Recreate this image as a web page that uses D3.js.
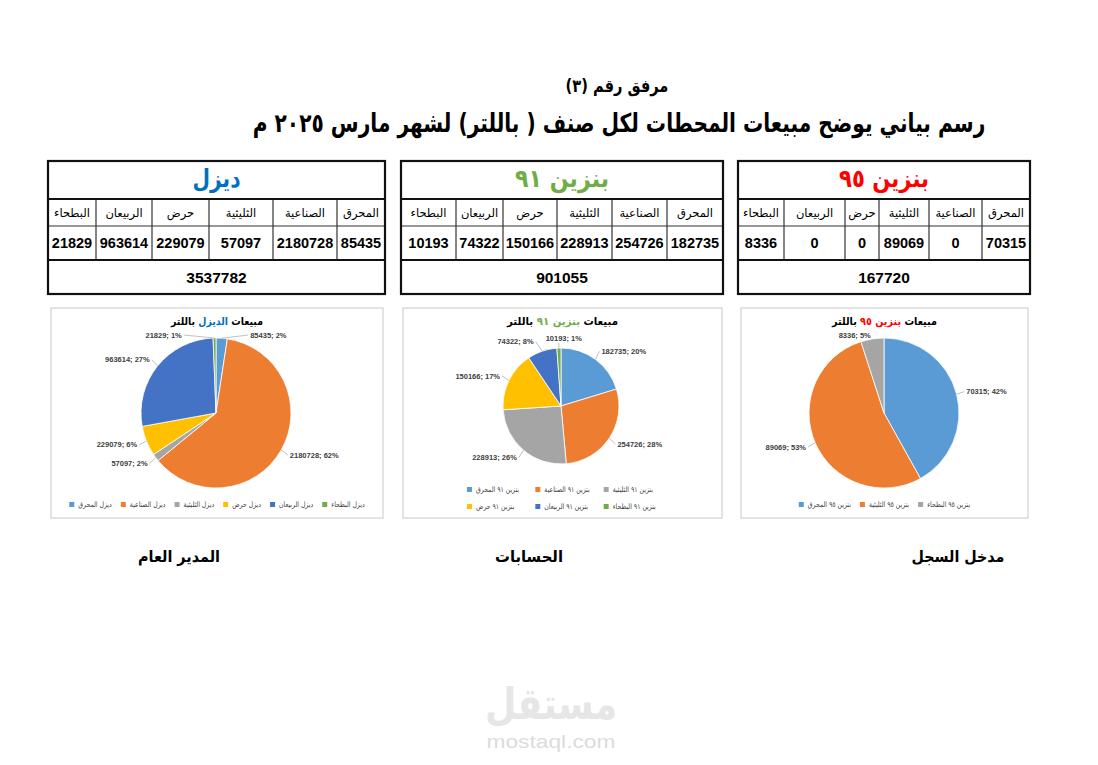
<!DOCTYPE html>
<html><head><meta charset="utf-8">
<script src="https://cdn.jsdelivr.net/npm/d3@7"></script>
<style>body{margin:0;background:#fff}svg{display:block}</style>
</head><body><svg id="c" width="1098" height="765"></svg>
<script>
// ---------------- DATA ----------------
const categories = ["المحرق","الصناعية","الثليثية","حرض","الربيعان","البطحاء"];
const dieselValues = [85435, 2180728, 57097, 229079, 963614, 21829];
const benzin91Values = [182735, 254726, 228913, 150166, 74322, 10193];
const benzin95Values = [70315, 0, 89069, 0, 0, 8336];
const productNames = ["ديزل","بنزين ٩١","بنزين ٩٥"];
const chartTitleNames = ["الديزل","بنزين ٩١","بنزين ٩٥"];
const legendPrefixes = ["ديزل","بنزين ٩١","بنزين ٩٥"];
const footerLabels = ["المدير العام","الحسابات","مدخل السجل"];
const subTitle = "مرفق رقم (٣)";
const mainTitle = "رسم بياني يوضح مبيعات المحطات لكل صنف ( باللتر) لشهر مارس ٢٠٢٥ م";

// ---------------- STYLE / LAYOUT ----------------
const pieColors = ["#5B9BD5","#ED7D31","#A5A5A5","#FFC000","#4472C4","#70AD47"];
const productColors = ["#0070C0","#70AD47","#FF0000"];
const AR = "'DejaVu Sans', sans-serif";
const NUM = "'Liberation Sans', Arial, sans-serif";
const series = [dieselValues, benzin91Values, benzin95Values];
const tableLayout = [
  {x1: 385, widths: [48,64,64,57,56,48], titleW: 48},
  {x1: 723, widths: [56,55,55,54,47,55], titleW: 94},
  {x1: 1030, widths: [48,53,50,34,61,46], titleW: 90}
];
const rowsY = [161, 199, 226, 260, 294];
const chartLayout = [
  {x0: 51, x1: 383, cx: 216, cy: 413, r: 75, titleW: 92},
  {x0: 403, x1: 722, cx: 561, cy: 406, r: 58, titleW: 111},
  {x0: 741, x1: 1028, cx: 884, cy: 413, r: 75, titleW: 105}
];
const boxTop = 308, boxBottom = 518, plotTop = 335;

const svg = d3.select("#c");

function scaleX(sel, s) {
  const x = +sel.attr("x"), y = +sel.attr("y");
  sel.attr("transform", `translate(${x},${y}) scale(${s},1) translate(${-x},${-y})`);
}
function setWidth(sel, target) {
  const w = sel.node().getComputedTextLength();
  if (w > 0) scaleX(sel, target / w);
}
function fitWidth(sel, maxW) {
  const w = sel.node().getComputedTextLength();
  if (w > maxW) scaleX(sel, maxW / w);
}
// whole-number percentages that add up to 100 (largest remainder)
function percents(vals) {
  const tot = d3.sum(vals);
  const raw = vals.map(v => v / tot * 100);
  const fl = raw.map(Math.floor);
  let left = 100 - d3.sum(fl);
  const order = d3.range(vals.length).sort((a, b) => (raw[b] - fl[b]) - (raw[a] - fl[a]));
  for (let k = 0; k < left; k++) fl[order[k]] += 1;
  return fl;
}

// ---------------- TITLES ----------------
const st = svg.append("text").attr("x", 617).attr("y", 92)
  .attr("text-anchor","middle").attr("direction","rtl")
  .style("font-family", AR).style("font-weight","bold").style("font-size","18px")
  .attr("fill","#000").text(subTitle);
setWidth(st, 103);
const mt = svg.append("text").attr("x", 619).attr("y", 132)
  .attr("text-anchor","middle").attr("direction","rtl")
  .style("font-family", AR).style("font-weight","bold").style("font-size","26px")
  .attr("fill","#000").text(mainTitle);
setWidth(mt, 733);

// ---------------- TABLES ----------------
series.forEach((values, i) => {
  const L = tableLayout[i];
  const total = d3.sum(values);
  const x0 = L.x1 - d3.sum(L.widths);
  const g = svg.append("g");
  const edges = [L.x1];
  L.widths.forEach(w => edges.push(edges[edges.length-1] - w));
  const tt = g.append("text").attr("x", (x0+L.x1)/2).attr("y", 187)
    .attr("text-anchor","middle").attr("direction","rtl")
    .style("font-family", AR).style("font-weight","bold").style("font-size","25px")
    .attr("fill", productColors[i]).text(productNames[i]);
  setWidth(tt, L.titleW);
  categories.forEach((c, k) => {
    const cx = (edges[k] + edges[k+1]) / 2;
    const w = L.widths[k];
    const ht = g.append("text").attr("x", cx).attr("y", 217)
      .attr("text-anchor","middle").attr("direction","rtl")
      .style("font-family", AR).style("font-size","11.5px").attr("fill","#000").text(c);
    fitWidth(ht, w - 6);
    const vt = g.append("text").attr("x", cx).attr("y", 248)
      .attr("text-anchor","middle")
      .style("font-family", NUM).style("font-weight","bold").style("font-size","14.5px")
      .attr("fill","#000").text(values[k]);
    fitWidth(vt, w - 3);
  });
  g.append("text").attr("x", (x0+L.x1)/2).attr("y", 283)
    .attr("text-anchor","middle")
    .style("font-family", NUM).style("font-weight","bold").style("font-size","15.5px")
    .attr("fill","#000").text(total);
  edges.slice(1, -1).forEach(x => {
    g.append("line").attr("x1", x).attr("x2", x).attr("y1", rowsY[1]).attr("y2", rowsY[3])
      .attr("stroke","#333").attr("stroke-width",1.2);
  });
  g.append("line").attr("x1", x0).attr("x2", L.x1).attr("y1", rowsY[2]).attr("y2", rowsY[2])
    .attr("stroke","#333").attr("stroke-width",1.2);
  [rowsY[1], rowsY[3]].forEach(y => g.append("line").attr("x1", x0).attr("x2", L.x1)
    .attr("y1", y).attr("y2", y).attr("stroke","#111").attr("stroke-width",2.2));
  g.append("rect").attr("x", x0).attr("y", rowsY[0]).attr("width", L.x1 - x0)
    .attr("height", rowsY[4] - rowsY[0]).attr("fill","none")
    .attr("stroke","#111").attr("stroke-width",2.2);
});

// ---------------- PIE CHARTS ----------------
series.forEach((values, i) => {
  const C = chartLayout[i];
  const g = svg.append("g");
  g.append("rect").attr("x", C.x0).attr("y", boxTop).attr("width", C.x1 - C.x0)
    .attr("height", boxBottom - boxTop).attr("fill","#fff")
    .attr("stroke","#c8c8c8").attr("stroke-width",1);
  const ct = g.append("text").attr("x", (C.x0 + C.x1)/2).attr("y", 325)
    .attr("text-anchor","middle").attr("direction","rtl")
    .style("font-family", AR).style("font-weight","bold").style("font-size","11px");
  ct.append("tspan").attr("fill","#000").text("مبيعات ");
  ct.append("tspan").attr("fill", productColors[i]).text(chartTitleNames[i]);
  ct.append("tspan").attr("fill","#000").text("  باللتر");
  setWidth(ct, C.titleW);

  const pieData = categories.map((c, k) => ({cat: c, value: values[k]})).filter(d => d.value > 0);
  const pct = percents(pieData.map(d => d.value));
  pieData.forEach((d, k) => d.pct = pct[k]);
  const color = d3.scaleOrdinal().domain(pieData.map(d => d.cat)).range(pieColors);
  const arcs = d3.pie().sort(null).value(d => d.value)(pieData);
  const arc = d3.arc().innerRadius(0).outerRadius(C.r);
  const pg = g.append("g").attr("transform", `translate(${C.cx},${C.cy})`);
  pg.selectAll("path").data(arcs).join("path")
    .attr("d", arc).attr("fill", d => color(d.data.cat))
    .attr("stroke","#fff").attr("stroke-width",0.8);

  // data labels
  const lg = g.append("g");
  const labels = arcs.map(a => {
    const m = (a.startAngle + a.endAngle) / 2;
    const s = Math.sin(m), c = -Math.cos(m);
    const R = C.r + 10;
    const anchor = s > 0.12 ? "start" : (s < -0.12 ? "end" : "middle");
    const t = lg.append("text")
      .style("font-family", NUM).style("font-weight","bold").style("font-size","7.5px")
      .attr("fill","#404040")
      .text(`${a.data.value}; ${a.data.pct}%`);
    const w = t.node().getComputedTextLength();
    const x = C.cx + R * s;
    const y = Math.max(plotTop, C.cy + R * c);
    let left = anchor === "start" ? x : (anchor === "end" ? x - w : x - w/2);
    const yb = y + 4;
    if (yb > C.cy - C.r) {
      const half = Math.sqrt(Math.max(0, C.r*C.r - (C.cy - yb)*(C.cy - yb)));
      const ctr = left + w/2;
      const margin = 22;
      if (left < C.cx + half && left + w > C.cx - half && Math.abs(C.cy - y) > C.r * 0.8) {
        if (ctr < C.cx || (ctr === C.cx && s < 0)) left = C.cx - half - margin - w;
        else left = C.cx + half + margin;
      }
    }
    return {t, m, s, c, w, left, y};
  });
  const gap = 12;
  for (let it = 0; it < 10; it++) {
    for (let p = 0; p < labels.length; p++) for (let q = p+1; q < labels.length; q++) {
      const A = labels[p], B = labels[q];
      if (Math.abs(A.y - B.y) > 11) continue;
      const [lo, hi] = (A.left + A.w/2) <= (B.left + B.w/2) ? [A, B] : [B, A];
      const ov = (lo.left + lo.w) - hi.left + gap;
      if (ov > 0) { lo.left -= ov/2; hi.left += ov/2; }
    }
  }
  labels.forEach(L => {
    L.t.attr("x", L.left).attr("y", L.y + 2.7);
    const ex = C.cx + C.r * L.s, ey = C.cy + C.r * L.c;
    let tx, ty;
    if (ex < L.left - 2) { tx = L.left - 2; ty = L.y; }
    else if (ex > L.left + L.w + 2) { tx = L.left + L.w + 2; ty = L.y; }
    else { tx = ex; ty = L.y + (ey > L.y ? 5 : -5); }
    if (Math.hypot(tx - ex, ty - ey) > 4) {
      lg.insert("line", "text").attr("x1", ex).attr("y1", ey).attr("x2", tx).attr("y2", ty)
        .attr("stroke","#a6a6a6").attr("stroke-width",0.7);
    }
  });

  // legend
  const leg = g.append("g");
  const squeeze = 0.82;
  const items = pieData.map(d => {
    const t = leg.append("text").attr("direction","rtl").attr("text-anchor","middle")
      .style("font-family", AR).style("font-size","7.5px").attr("fill","#404040")
      .text(`${legendPrefixes[i]} ${d.cat}`);
    const w = t.node().getComputedTextLength() * squeeze;
    return {d, t, w, iw: 5 + 4 + w};
  });
  const boxW = C.x1 - C.x0, itemGap = 9;
  const totalW = d3.sum(items, it => it.iw) + itemGap * (items.length - 1);
  const placeItem = (it, x, y) => {
    leg.append("rect").attr("x", x).attr("y", y - 3).attr("width", 5).attr("height", 5)
      .attr("fill", color(it.d.cat));
    it.t.attr("x", x + 9 + it.w/2).attr("y", y + 2.4);
    scaleX(it.t, squeeze);
  };
  if (totalW <= boxW - 20) {
    let x = (C.x0 + C.x1)/2 - totalW/2;
    items.forEach(it => { placeItem(it, x, 505); x += it.iw + itemGap; });
  } else {
    const nrows = Math.ceil(totalW / (boxW - 20));
    const ncols = Math.ceil(items.length / nrows);
    const colW = d3.max(items, it => it.iw) + 14;
    const startX = (C.x0 + C.x1)/2 - (ncols * colW - 14)/2;
    items.forEach((it, k) => {
      const col = k % ncols, row = Math.floor(k / ncols);
      placeItem(it, startX + col * colW, 507 - (nrows - 1 - row) * 17);
    });
  }
});

// ---------------- FOOTER ----------------
const footerPos = [{x: 179, w: 82}, {x: 529, w: 68}, {x: 958, w: 93}];
footerLabels.forEach((f, k) => {
  const t = svg.append("text").attr("x", footerPos[k].x).attr("y", 562)
    .attr("text-anchor","middle").attr("direction","rtl")
    .style("font-family", AR).style("font-weight","bold").style("font-size","16px")
    .attr("fill","#000").text(f);
  setWidth(t, footerPos[k].w);
});

// ---------------- WATERMARK ----------------
const wm1 = svg.append("text").attr("x", 551).attr("y", 719)
  .attr("text-anchor","middle").attr("direction","rtl")
  .style("font-family", AR).style("font-weight","bold").style("font-size","44px")
  .attr("fill","#e6e6e6").text("مستقل");
setWidth(wm1, 132);
const wm2 = svg.append("text").attr("x", 551).attr("y", 748)
  .attr("text-anchor","middle")
  .style("font-family", NUM).style("font-size","18px")
  .attr("fill","#dcdcdc").text("mostaql.com");
setWidth(wm2, 129);
</script>
</body></html>
